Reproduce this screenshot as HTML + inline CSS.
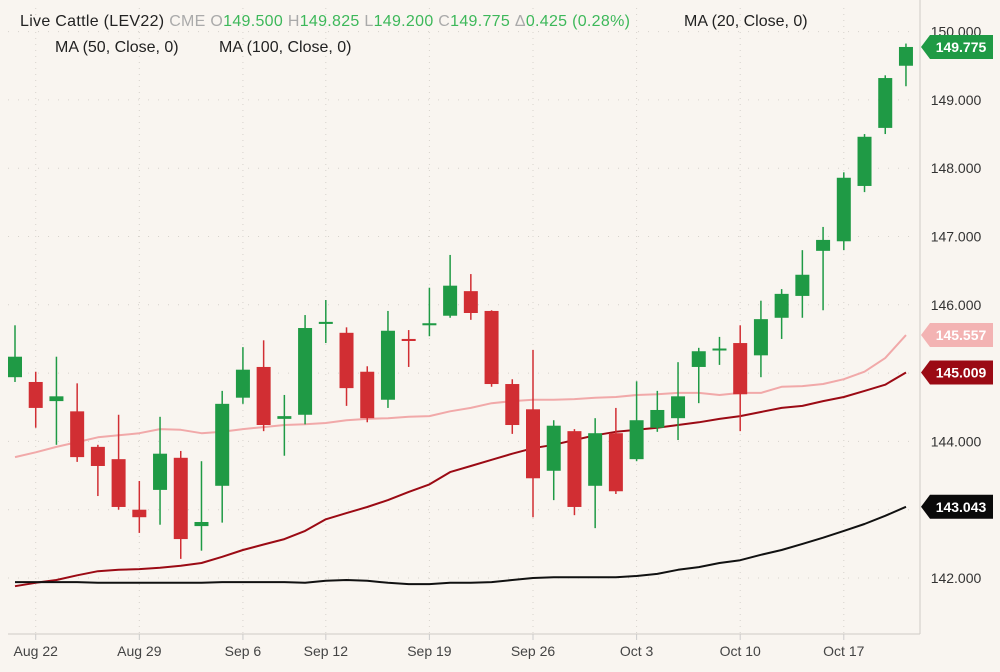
<!DOCTYPE html>
<html><head><meta charset="utf-8"><style>
html,body{margin:0;padding:0;background:#f9f5f0;}
body{width:1000px;height:667px;overflow:hidden;font-family:"Liberation Sans",sans-serif;}
svg text{font-family:"Liberation Sans",sans-serif;}
</style></head><body>
<svg id="chart" width="1000" height="667" xmlns="http://www.w3.org/2000/svg">
<rect x="0" y="0" width="1000" height="667" fill="#f9f5f0"/>
<g id="grid"></g>
<g id="ma"></g>
<g id="candles"></g>
<g id="axes"></g>
<g font-size="16">
<text x="20" y="26" letter-spacing="0.3"><tspan fill="#222">Live Cattle (LEV22) </tspan><tspan fill="#aaa">CME O</tspan><tspan fill="#3db85a">149.500 </tspan><tspan fill="#aaa">H</tspan><tspan fill="#3db85a">149.825 </tspan><tspan fill="#aaa">L</tspan><tspan fill="#3db85a">149.200 </tspan><tspan fill="#aaa">C</tspan><tspan fill="#3db85a">149.775 </tspan><tspan fill="#aaa">Δ</tspan><tspan fill="#3db85a">0.425 (0.28%)</tspan></text>
<text x="684" y="26" fill="#222">MA (20, Close, 0)</text>
<text x="55" y="52" fill="#222">MA (50, Close, 0)</text>
<text x="219" y="52" fill="#222">MA (100, Close, 0)</text>
</g>
</svg>
<script>
const opens=[144.94,144.87,144.59,144.44,143.92,143.74,143.00,143.29,143.76,142.76,143.35,144.64,145.09,144.33,144.39,145.72,145.59,145.02,144.61,145.50,145.70,145.84,146.20,145.91,144.84,144.47,143.57,144.15,143.35,144.12,143.74,144.20,144.34,145.09,145.34,145.44,145.26,145.81,146.13,146.79,146.93,147.74,148.59,149.500];
const highs=[145.70,145.02,145.24,144.85,143.95,144.39,143.42,144.36,143.86,143.71,144.74,145.38,145.48,144.68,145.85,146.07,145.67,145.10,145.91,145.63,146.25,146.73,146.45,145.92,144.91,145.34,144.31,144.18,144.34,144.49,144.88,144.74,145.16,145.37,145.53,145.70,146.06,146.23,146.80,147.14,147.94,148.50,149.36,149.825];
const lows=[144.87,144.20,143.95,143.70,143.20,143.00,142.66,142.78,142.28,142.40,142.81,144.55,144.15,143.79,144.25,145.44,144.52,144.28,144.49,145.09,145.54,145.81,145.78,144.80,144.11,142.89,143.14,142.92,142.73,143.23,143.71,144.14,144.02,144.56,145.12,144.15,144.94,145.50,145.81,145.92,146.80,147.65,148.50,149.200];
const closes=[145.24,144.49,144.66,143.77,143.64,143.04,142.89,143.82,142.57,142.82,144.55,145.05,144.24,144.37,145.66,145.75,144.78,144.34,145.62,145.47,145.73,146.28,145.88,144.84,144.24,143.46,144.23,143.04,144.12,143.27,144.31,144.46,144.66,145.32,145.36,144.69,145.79,146.16,146.44,146.95,147.86,148.46,149.32,149.775];
const ma20=[143.77,143.84,143.92,143.99,144.06,144.09,144.12,144.18,144.17,144.12,144.14,144.18,144.21,144.24,144.25,144.27,144.31,144.33,144.34,144.36,144.37,144.44,144.49,144.56,144.59,144.61,144.61,144.62,144.64,144.65,144.68,144.69,144.71,144.71,144.68,144.71,144.71,144.80,144.81,144.84,144.91,145.02,145.22,145.557];
const ma50=[141.88,141.93,141.97,142.04,142.10,142.12,142.13,142.15,142.18,142.22,142.31,142.41,142.49,142.57,142.69,142.86,142.95,143.04,143.14,143.26,143.37,143.55,143.64,143.73,143.82,143.90,143.95,144.02,144.09,144.14,144.17,144.20,144.24,144.28,144.33,144.37,144.43,144.49,144.52,144.59,144.65,144.74,144.83,145.009];
const ma100=[141.94,141.94,141.94,141.94,141.93,141.93,141.93,141.93,141.93,141.93,141.94,141.94,141.94,141.94,141.93,141.96,141.97,141.96,141.93,141.91,141.91,141.93,141.93,141.94,141.97,142.00,142.01,142.01,142.01,142.01,142.03,142.06,142.12,142.16,142.22,142.26,142.34,142.41,142.50,142.59,142.69,142.79,142.91,143.043];
const priceTicks=[142,143,144,145,146,147,148,149,150];
const priceTickLabels=["142.000","","144.000","","146.000","147.000","148.000","149.000","150.000"];
const dateIdx=[1,6,11,15,20,25,30,35,40];
const dateLabels=["Aug 22","Aug 29","Sep 6","Sep 12","Sep 19","Sep 26","Oct 3","Oct 10","Oct 17"];

const NS="http://www.w3.org/2000/svg";
const X0=15,DX=20.72,Y0=578,K=68.3;
const xs=i=>X0+DX*i;
const ys=v=>Y0-(v-142)*K;
function mk(tag,attrs,parent){const e=document.createElementNS(NS,tag);for(const k in attrs)e.setAttribute(k,attrs[k]);parent.appendChild(e);return e;}
const grid=document.getElementById('grid'),axes=document.getElementById('axes'),cg=document.getElementById('candles'),mg=document.getElementById('ma');

priceTicks.forEach((p,i)=>{
  const l=mk('line',{x1:8,x2:918,y1:ys(p),y2:ys(p),stroke:'#d6d2cc','stroke-width':1,'stroke-dasharray':'1 9'},grid);
  
  
  if(priceTickLabels[i]){
    const t=mk('text',{x:956,y:ys(p)+5,'font-size':14,fill:'#333','text-anchor':'middle'},axes);
    t.textContent=priceTickLabels[i];
    
    
  }
});
dateIdx.forEach((d,i)=>{
  const l=mk('line',{x1:xs(d),x2:xs(d),y1:8,y2:634,stroke:'#d6d2cc','stroke-width':1,'stroke-dasharray':'1 5'},grid);
  
  
  const tk=mk('line',{x1:xs(d),x2:xs(d),y1:634,y2:640,stroke:'#ccc'},axes);
  
  
  const t=mk('text',{x:xs(d),y:656,'font-size':14,fill:'#444','text-anchor':'middle'},axes);
  t.textContent=dateLabels[i];
  
  
});
const ax=mk('line',{x1:920,x2:920,y1:0,y2:634,stroke:'#d0ccc6','stroke-width':1},axes);


const bx=mk('line',{x1:8,x2:920,y1:634,y2:634,stroke:'#d0ccc6','stroke-width':1},axes);



function maLine(arr,color,w,name){
  const pts=arr.map((v,i)=>xs(i).toFixed(1)+','+ys(v).toFixed(1)).join(' ');
  const p=mk('polyline',{points:pts,fill:'none',stroke:color,'stroke-width':w,'stroke-linejoin':'round'},mg);
  
  
}
maLine(ma20,'#f1a9a9',2,'ma20-line');
maLine(ma50,'#9b0a14',2,'ma50-line');
maLine(ma100,'#111',2,'ma100-line');

opens.forEach((o,i)=>{
  const c=closes[i],up=c>=o,col=up?'#1f9a45':'#d12e33';
  const g=mk('g',{},cg);
  
  
  mk('line',{x1:xs(i),x2:xs(i),y1:ys(highs[i]),y2:ys(lows[i]),stroke:col,'stroke-width':1.5},g);
  const top=ys(Math.max(o,c)),h=Math.max(2,Math.abs(ys(o)-ys(c)));
  mk('rect',{x:xs(i)-7,y:top,width:14,height:h,fill:col},g);
});

function tag(v,bg,fg,name){
  const y=ys(v),g=mk('g',{},axes);
  
  
  mk('path',{d:`M921 ${y} L930 ${y-12} L993 ${y-12} L993 ${y+12} L930 ${y+12} Z`,fill:bg},g);
  const t=mk('text',{x:961,y:y+5,'font-size':14,'font-weight':'bold',fill:fg,'text-anchor':'middle'},g);
  t.textContent=v.toFixed(3);
}
tag(closes[closes.length-1],'#1f9a45','#fff','last-price-tag');
tag(ma20[ma20.length-1],'#f3b3b3','#fff','ma20-tag');
tag(ma50[ma50.length-1],'#9b0a14','#fff','ma50-tag');
tag(ma100[ma100.length-1],'#0a0a0a','#fff','ma100-tag');
</script>
</body></html>
